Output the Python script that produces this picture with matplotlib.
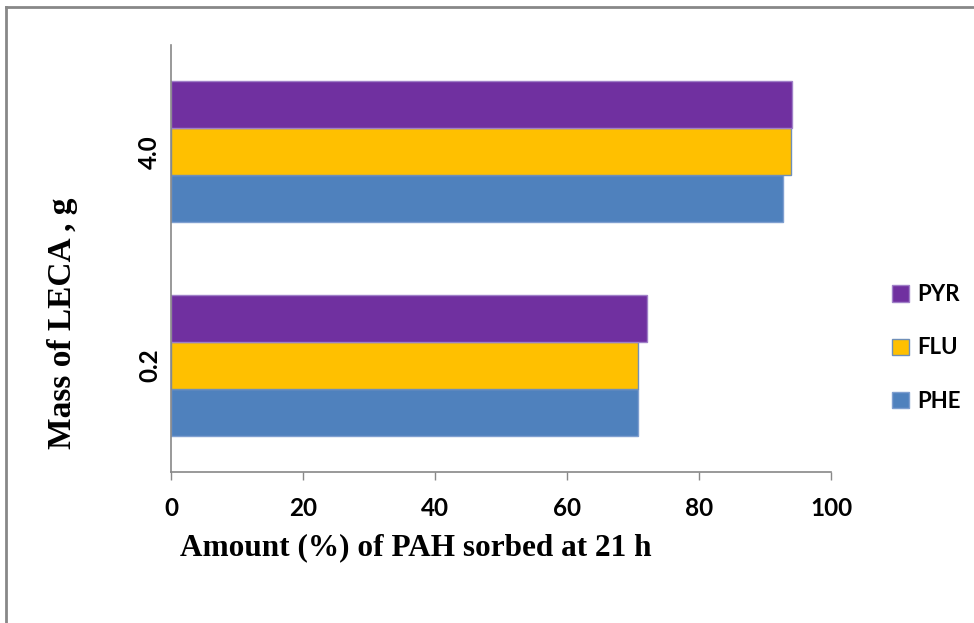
import matplotlib
matplotlib.use("Agg")
import matplotlib.pyplot as plt
import numpy as np
from matplotlib.lines import Line2D
from matplotlib.patches import Patch

# Sorption data: LECA mass (g) vs. % PAH sorbed at 21 h
masses = ["0.2", "4.0"]
series_names = ["PHE", "FLU", "PYR"]
phe = [70.7, 92.7]
flu = [70.8, 94.0]
pyr = [72.1, 94.1]
x_ticks = [0, 20, 40, 60, 80, 100]

colors = {"PHE": "#4F81BD", "FLU": "#FFC000", "PYR": "#7030A0"}
edges = {"PHE": "#7F9FD0", "FLU": "#6F8FB8", "PYR": "#A080C8"}

fig = plt.figure(figsize=(9.74, 6.23), dpi=100)
ax = fig.add_axes([171 / 974, 1 - 472 / 623, 660 / 974, 427 / 623])

y = np.arange(len(masses))
h = 0.22
for i, (name, vals) in enumerate(zip(series_names, [phe, flu, pyr])):
    ax.barh(y + (i - 1) * h, vals, height=h, color=colors[name],
            edgecolor=edges[name], linewidth=1.0, label=name, zorder=2)

ax.set_xlim(0, 100)
ax.set_ylim(-0.5, 1.5)
ax.set_xticks(x_ticks)
ax.set_xticklabels([str(v) for v in x_ticks])
ax.set_yticks(y)
ax.set_yticklabels(masses, rotation=90, va="center")

sans = ["Lato", "DejaVu Sans"]
for lab in ax.get_xticklabels() + ax.get_yticklabels():
    lab.set_fontfamily(sans)
    lab.set_fontweight("bold")
    lab.set_fontsize(17.5)
    lab.set_color("black")

ax.tick_params(axis="x", direction="out", length=6, width=1, color="#888888", pad=12)
ax.tick_params(axis="y", length=0, pad=7)

for s in ["top", "right"]:
    ax.spines[s].set_visible(False)
for s in ["left", "bottom"]:
    ax.spines[s].set_color("#888888")
    ax.spines[s].set_linewidth(1.2)

serif = ["Liberation Serif", "DejaVu Serif"]
fig.text(416 / 974, 1 - 548 / 623, "Amount (%) of PAH sorbed at 21 h",
         ha="center", va="center", fontfamily=serif, fontweight="bold", fontsize=22.5)
fig.text(62 / 974, 1 - 323 / 623, "Mass of LECA , g", rotation=90,
         ha="center", va="center", fontfamily=serif, fontweight="bold", fontsize=24)

handles = [Patch(facecolor=colors[n], edgecolor=edges[n], label=n)
           for n in reversed(series_names)]
fig.legend(handles=handles, loc="center left",
           bbox_to_anchor=(872 / 974, 1 - 348 / 623), frameon=False,
           prop=dict(family=sans, weight="bold", size=16),
           handlelength=0.75, handleheight=0.75, labelspacing=1.45, handletextpad=0.4)

# Outer frame lines along the top and left edges
fig.add_artist(Line2D([6 / 974, 1.0], [1 - 7 / 623, 1 - 7 / 623],
                      transform=fig.transFigure, color="#888888", linewidth=2))
fig.add_artist(Line2D([6 / 974, 6 / 974], [0.0, 1 - 7 / 623],
                      transform=fig.transFigure, color="#888888", linewidth=2))

fig.savefig("out.png", dpi=100)
